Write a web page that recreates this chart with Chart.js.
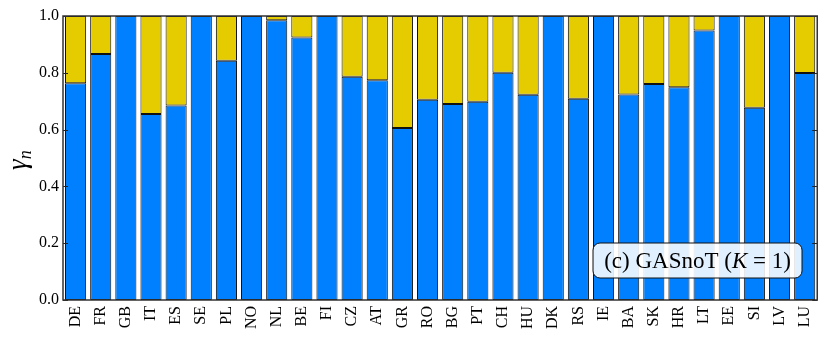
<!DOCTYPE html>
<html>
<head>
<meta charset="utf-8">
<script src="https://cdn.jsdelivr.net/npm/chart.js@4/dist/chart.umd.min.js"></script>
<style>
  html, body { margin: 0; padding: 0; background: #fff; }
</style>
</head>
<body>
<canvas id="gammaChart" width="830" height="338"></canvas>
<script>
// Countries along the x axis
const countries = ['DE', 'FR', 'GB', 'IT', 'ES', 'SE', 'PL', 'NO', 'NL', 'BE',
  'FI', 'CZ', 'AT', 'GR', 'RO', 'BG', 'PT', 'CH', 'HU', 'DK',
  'RS', 'IE', 'BA', 'SK', 'HR', 'LT', 'EE', 'SI', 'LV', 'LU'];

// gamma_n (blue part of each bar)
const gammaValues = [0.763, 0.866, 1.0, 0.655, 0.685, 1.0, 0.842, 1.0, 0.985, 0.924,
  1.0, 0.786, 0.774, 0.606, 0.705, 0.690, 0.698, 0.800, 0.723, 1.0,
  0.709, 1.0, 0.724, 0.761, 0.749, 0.949, 1.0, 0.677, 1.0, 0.799];

// remaining share up to 1 (yellow part)
const restValues = [0.237, 0.134, 0, 0.345, 0.315, 0, 0.158, 0, 0.015, 0.076,
  0, 0.214, 0.226, 0.394, 0.295, 0.310, 0.302, 0.200, 0.277, 0,
  0.291, 0, 0.276, 0.239, 0.251, 0.051, 0, 0.323, 0, 0.201];

const yTicks = [0, 0.2, 0.4, 0.6, 0.8, 1.0];
const boxText = ['(c) GASnoT (', 'K', ' = 1)'];

const serif = '"Liberation Serif", "DejaVu Serif", serif';

// frame, inward ticks, y label and the annotation box
const decorations = {
  id: 'decorations',
  afterDraw(chart) {
    const ctx = chart.ctx;
    const a = chart.chartArea;
    const y = chart.scales.y;
    ctx.save();

    ctx.strokeStyle = '#222';
    ctx.lineWidth = 1;
    ctx.beginPath();
    yTicks.forEach(v => {
      const py = Math.round(y.getPixelForValue(v)) + 0.5;
      ctx.moveTo(a.left, py); ctx.lineTo(a.left + 5, py);
      ctx.moveTo(a.right, py); ctx.lineTo(a.right - 5, py);
    });
    ctx.stroke();

    ctx.lineWidth = 1.5;
    ctx.strokeStyle = '#333';
    ctx.strokeRect(a.left, a.top, a.right - a.left, a.bottom - a.top);

    // y label: gamma with subscript n
    ctx.save();
    ctx.translate(26, 160);
    ctx.rotate(-Math.PI / 2);
    ctx.fillStyle = '#000';
    ctx.textBaseline = 'alphabetic';
    ctx.font = 'italic 27px ' + serif;
    const gw = ctx.measureText('γ').width;
    ctx.fillText('γ', -10, 0);
    ctx.font = 'italic 18px ' + serif;
    ctx.fillText('n', -10 + gw, 5);
    ctx.restore();

    // annotation box
    const bx = 593, by = 243, bw = 209, bh = 35, r = 7;
    ctx.beginPath();
    ctx.moveTo(bx + r, by);
    ctx.arcTo(bx + bw, by, bx + bw, by + bh, r);
    ctx.arcTo(bx + bw, by + bh, bx, by + bh, r);
    ctx.arcTo(bx, by + bh, bx, by, r);
    ctx.arcTo(bx, by, bx + bw, by, r);
    ctx.closePath();
    ctx.fillStyle = 'rgba(255,255,255,0.88)';
    ctx.fill();
    ctx.lineWidth = 1;
    ctx.strokeStyle = '#111';
    ctx.stroke();

    ctx.fillStyle = '#000';
    ctx.textBaseline = 'middle';
    const fonts = ['23px ' + serif, 'italic 23px ' + serif, '23px ' + serif];
    let total = 0;
    boxText.forEach((t, i) => { ctx.font = fonts[i]; total += ctx.measureText(t).width; });
    let tx = bx + (bw - total) / 2;
    boxText.forEach((t, i) => {
      ctx.font = fonts[i];
      ctx.fillText(t, tx, by + bh / 2 + 1);
      tx += ctx.measureText(t).width;
    });

    ctx.restore();
  }
};

new Chart(document.getElementById('gammaChart'), {
  type: 'bar',
  data: {
    labels: countries,
    datasets: [
      { data: gammaValues, backgroundColor: '#0080ff', borderColor: '#111', borderWidth: 1,
        borderSkipped: false, barPercentage: 0.84, categoryPercentage: 1 },
      { data: restValues, backgroundColor: '#e5cc00', borderColor: '#111', borderWidth: 1,
        borderSkipped: false, barPercentage: 0.84, categoryPercentage: 1 }
    ]
  },
  options: {
    responsive: false,
    animation: false,
    layout: { padding: { top: 16, right: 8, left: 0, bottom: 0 } },
    plugins: { legend: { display: false }, tooltip: { enabled: false } },
    scales: {
      x: {
        stacked: true,
        grid: { display: false, drawTicks: false },
        border: { display: false },
        ticks: {
          color: '#000', font: { family: serif, size: 16 },
          minRotation: 90, maxRotation: 90, autoSkip: false, padding: 6
        },
        afterFit(scale) { scale.height = 38; }
      },
      y: {
        stacked: true,
        min: 0, max: 1,
        grid: { display: false, drawTicks: false },
        border: { display: false },
        ticks: {
          stepSize: 0.2, color: '#000', font: { family: serif, size: 16 }, padding: 4,
          callback: v => v.toFixed(1)
        },
        afterFit(scale) { scale.width = 63; }
      }
    }
  },
  plugins: [decorations]
});
</script>
</body>
</html>
